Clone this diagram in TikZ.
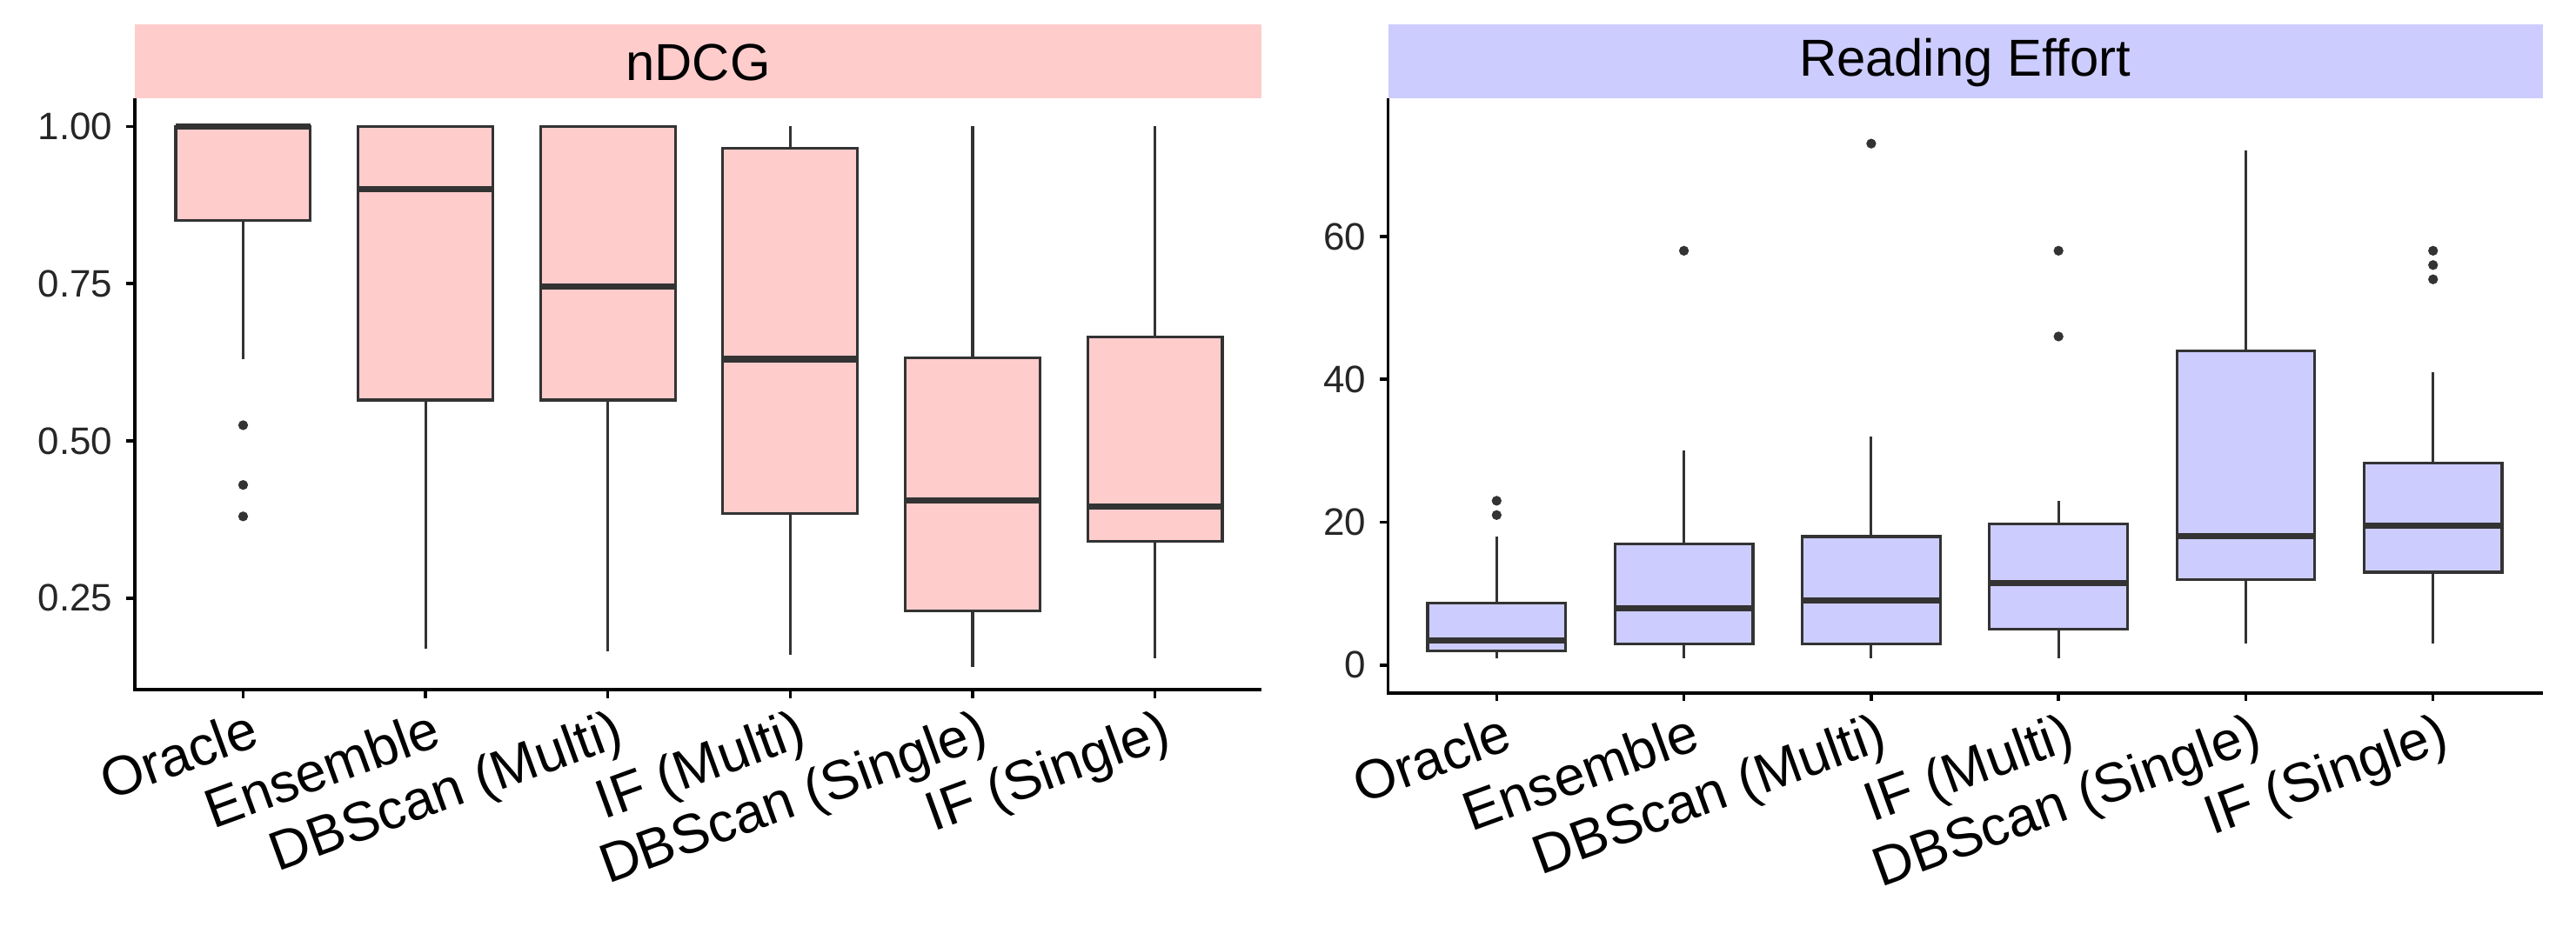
\documentclass[tikz,border=0pt]{standalone}
\usepackage{fontspec}
\setmainfont{Liberation Sans}
\definecolor{pinkf}{HTML}{FFCCCC}
\definecolor{bluef}{HTML}{CCCCFF}
\definecolor{ln}{HTML}{333333}
\begin{document}
\begin{tikzpicture}[x=0.01888cm,y=-0.01888cm,
  box/.style={draw=ln,line width=0.9pt},
  med/.style={draw=ln,line width=2pt},
  wh/.style={draw=ln,line width=0.9pt},
  ax/.style={draw=black,line width=1pt},
  ytl/.style={anchor=east,font=\fontsize{12.5}{14}\selectfont,text=black!85},
  xtl/.style={anchor=north east,rotate=20,font=\fontsize{18}{20}\selectfont,inner sep=1pt},
  strip/.style={font=\fontsize{17}{19}\selectfont}]
\useasboundingbox (0,0) rectangle (1568,564.5);
% ---- left panel
\fill[pinkf] (82,15) rectangle (768,60);
\node[strip] (t1) at (425,38) {nDCG};
\foreach \c/\lo/\qa/\me/\qb/\hi in {148/0.63/0.85/1.0/1.0/1.0, 259/0.17/0.565/0.90/1.0/1.0, 370/0.165/0.565/0.745/1.0/1.0, 481/0.16/0.385/0.63/0.965/1.0, 592/0.14/0.23/0.405/0.632/1.0, 703/0.155/0.34/0.395/0.665/1.0}{
  \draw[wh] (\c,{77+(1-\lo)*383}) -- (\c,{77+(1-\qa)*383});
  \draw[wh] (\c,{77+(1-\qb)*383}) -- (\c,{77+(1-\hi)*383});
  \filldraw[box,fill=pinkf] (\c-41,{77+(1-\qa)*383}) rectangle (\c+41,{77+(1-\qb)*383});
  \draw[med] (\c-41,{77+(1-\me)*383}) -- (\c+41,{77+(1-\me)*383});
}
\foreach \c/\v in {148/0.525,148/0.43,148/0.38}
  \fill[ln] (\c,{77+(1-\v)*383}) circle (3);
\draw[ax] (82,60) -- (82,420) -- (768,420);
\foreach \v/\t in {1/1.00,0.75/0.75,0.5/0.50,0.25/0.25}{
  \draw[ax] (77,{77+(1-\v)*383}) -- (82,{77+(1-\v)*383});
  \node[ytl] at (75,{77+(1-\v)*383}) {\t};}
\foreach \c/\t in {148/Oracle,259/Ensemble,370/DBScan (Multi),481/IF (Multi),592/DBScan (Single),703/IF (Single)}{
  \draw[ax] (\c,420) -- (\c,425);
  \node[xtl] at (\c+4,428) {\t};}
% ---- right panel
\fill[bluef] (845,15) rectangle (1548,60);
\node[strip] (t2) at (1196,38) {Reading Effort};
\foreach \c/\lo/\qa/\me/\qb/\hi in {911/1/2/3.5/8.7/18, 1025/1/3/8/17/30, 1139/1/3/9/18/32, 1253/1/5/11.5/19.8/23, 1367/3/12/18/44/72, 1481/3/13/19.5/28.3/41}{
  \draw[wh] (\c,{405-4.35*\lo}) -- (\c,{405-4.35*\qa});
  \draw[wh] (\c,{405-4.35*\qb}) -- (\c,{405-4.35*\hi});
  \filldraw[box,fill=bluef] (\c-42,{405-4.35*\qa}) rectangle (\c+42,{405-4.35*\qb});
  \draw[med] (\c-42,{405-4.35*\me}) -- (\c+42,{405-4.35*\me});
}
\foreach \c/\v in {911/21,911/23,1025/58,1139/73,1253/46,1253/58,1481/54,1481/56,1481/58}
  \fill[ln] (\c,{405-4.35*\v}) circle (3);
\draw[ax] (845,60) -- (845,422) -- (1548,422);
\foreach \v in {0,20,40,60}{
  \draw[ax] (840,{405-4.35*\v}) -- (845,{405-4.35*\v});
  \node[ytl] at (838,{405-4.35*\v}) {\v};}
\foreach \c/\t in {911/Oracle,1025/Ensemble,1139/DBScan (Multi),1253/IF (Multi),1367/DBScan (Single),1481/IF (Single)}{
  \draw[ax] (\c,422) -- (\c,427);
  \node[xtl] at (\c+4,430) {\t};}
\end{tikzpicture}
\end{document}
